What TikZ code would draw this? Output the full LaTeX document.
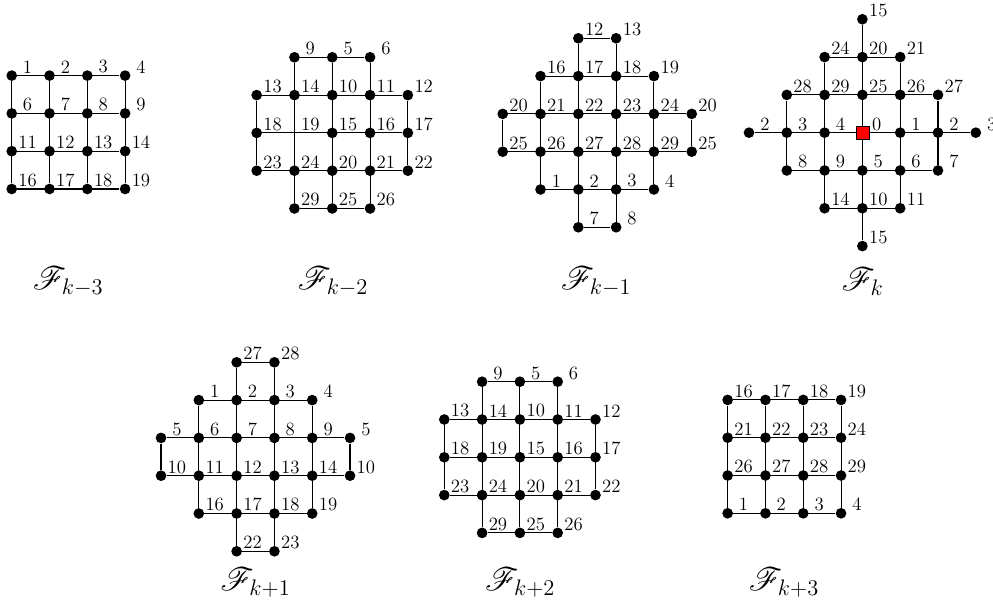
\documentclass[tikz,border=0pt]{standalone}
\usepackage{amsmath}
\usepackage{mathrsfs}

\begin{document}
\begin{tikzpicture}[x=0.85cm, y=-0.85cm,
        vtx/.style={shape=circle, fill=black, inner sep=0pt, minimum size=0.24cm},
        cross/.style={shape=circle, inner sep=0pt, minimum size=0pt},
        root/.style={shape=rectangle, draw=black, fill=red, inner sep=0pt, minimum size=0.29cm},
        num/.style={inner sep=0pt, anchor=center, font=\large},
        wire/.style={line width=0.7pt},
        captxt/.style={font=\huge}]
        	\useasboundingbox (0,0) rectangle (26.27,16.085);
        	% F_{k-3}
        	\begin{scope}[shift={(0.31,2.0)}]
        	\foreach \c in {0,...,3} \foreach \r in {0,...,3} {
        		\pgfmathtruncatemacro\l{5*\r+\c+1}
        		\node[vtx] (A-\c-\r) at (\c,\r) {};
        		\node[num] (A-\c-\r-n) at (\c+0.42,\r-0.23) {\l};
        	}
        	\foreach \i in {0,...,3} {
        		\draw[wire] (A-0-\i) -- (A-3-\i);
        		\draw[wire] (A-\i-0) -- (A-\i-3);
        	}
        	\end{scope}
        	% F_{k-2}
        	\begin{scope}[shift={(6.79,1.516)}]
        	\foreach \c/\r/\l in {1/0/9, 2/0/5, 3/0/6, 0/1/13, 1/1/14, 2/1/10, 3/1/11, 4/1/12,
        			0/2/18, 2/2/15, 3/2/16, 4/2/17, 0/3/23, 1/3/24, 2/3/20, 3/3/21, 4/3/22,
        			1/4/29, 2/4/25, 3/4/26} {
        		\node[vtx] (B-\c-\r) at (\c,\r) {};
        		\node[num] (B-\c-\r-n) at (\c+0.42,\r-0.23) {\l};
        	}
        	\node[cross] (B-1-2) at (1,2) {};
        	\node[num] (B-1-2-n) at (1.42,1.77) {19};
        	\foreach \r/\a/\b in {0/1/3, 1/0/4, 2/0/4, 3/0/4, 4/1/3}
        		\draw[wire] (B-\a-\r) -- (B-\b-\r);
        	\foreach \c/\a/\b in {0/1/3, 1/0/4, 2/0/4, 3/0/4, 4/1/3}
        		\draw[wire] (B-\c-\a) -- (B-\c-\b);
        	\end{scope}
        	% F_{k-1}
        	\begin{scope}[shift={(13.30,1.013)}]
        	\foreach \c/\r/\l in {2/0/12, 3/0/13, 1/1/16, 2/1/17, 3/1/18, 4/1/19,
        			0/2/20, 1/2/21, 2/2/22, 3/2/23, 4/2/24, 5/2/20,
        			0/3/25, 1/3/26, 2/3/27, 3/3/28, 4/3/29, 5/3/25,
        			1/4/1, 2/4/2, 3/4/3, 4/4/4, 2/5/7, 3/5/8} {
        		\node[vtx] (C-\c-\r) at (\c,\r) {};
        		\node[num] (C-\c-\r-n) at (\c+0.42,\r-0.23) {\l};
        	}
        	\foreach \r/\a/\b in {0/2/3, 1/1/4, 2/0/5, 3/0/5, 4/1/4, 5/2/3}
        		\draw[wire] (C-\a-\r) -- (C-\b-\r);
        	\foreach \c/\a/\b in {0/2/3, 1/1/4, 2/0/5, 3/0/5, 4/1/4, 5/2/3}
        		\draw[wire] (C-\c-\a) -- (C-\c-\b);
        	\end{scope}
        	% F_k
        	\begin{scope}[shift={(19.815,0.51)}]
        	\foreach \c/\r/\l in {3/0/15, 2/1/24, 3/1/20, 4/1/21,
        			1/2/28, 2/2/29, 3/2/25, 4/2/26, 5/2/27,
        			0/3/2, 1/3/3, 2/3/4, 4/3/1, 5/3/2, 6/3/3,
        			1/4/8, 2/4/9, 3/4/5, 4/4/6, 5/4/7,
        			2/5/14, 3/5/10, 4/5/11, 3/6/15} {
        		\node[vtx] (D-\c-\r) at (\c,\r) {};
        		\node[num] (D-\c-\r-n) at (\c+0.42,\r-0.23) {\l};
        	}
        	\node[root] (D-3-3) at (3,3) {};
        	\node[num] (D-3-3-n) at (3.38,2.77) {0};
        	\foreach \r/\a/\b in {1/2/4, 2/1/5, 4/1/5, 5/2/4}
        		\draw[wire] (D-\a-\r) -- (D-\b-\r);
        	\foreach \c/\a/\b in {1/2/4, 2/1/5, 4/1/5, 5/2/4}
        		\draw[wire] (D-\c-\a) -- (D-\c-\b);
        	\draw[wire] (D-0-3) -- (D-3-3) -- (D-6-3);
        	\draw[wire] (D-3-0) -- (D-3-3) -- (D-3-6);
        	\end{scope}
        	% F_{k+1}
        	\begin{scope}[shift={(4.26,9.585)}]
        	\foreach \c/\r/\l in {2/0/27, 3/0/28, 1/1/1, 2/1/2, 3/1/3, 4/1/4,
        			0/2/5, 1/2/6, 2/2/7, 3/2/8, 4/2/9, 5/2/5,
        			0/3/10, 1/3/11, 2/3/12, 3/3/13, 4/3/14, 5/3/10,
        			1/4/16, 2/4/17, 3/4/18, 4/4/19, 2/5/22, 3/5/23} {
        		\node[vtx] (E-\c-\r) at (\c,\r) {};
        		\node[num] (E-\c-\r-n) at (\c+0.42,\r-0.23) {\l};
        	}
        	\foreach \r/\a/\b in {0/2/3, 1/1/4, 2/0/5, 3/0/5, 4/1/4, 5/2/3}
        		\draw[wire] (E-\a-\r) -- (E-\b-\r);
        	\foreach \c/\a/\b in {0/2/3, 1/1/4, 2/0/5, 3/0/5, 4/1/4, 5/2/3}
        		\draw[wire] (E-\c-\a) -- (E-\c-\b);
        	\end{scope}
        	% F_{k+2}
        	\begin{scope}[shift={(11.754,10.098)}]
        	\foreach \c/\r/\l in {1/0/9, 2/0/5, 3/0/6, 0/1/13, 1/1/14, 2/1/10, 3/1/11, 4/1/12,
        			0/2/18, 1/2/19, 2/2/15, 3/2/16, 4/2/17, 0/3/23, 1/3/24, 2/3/20, 3/3/21, 4/3/22,
        			1/4/29, 2/4/25, 3/4/26} {
        		\node[vtx] (F-\c-\r) at (\c,\r) {};
        		\node[num] (F-\c-\r-n) at (\c+0.42,\r-0.23) {\l};
        	}
        	\foreach \r/\a/\b in {0/1/3, 1/0/4, 2/0/4, 3/0/4, 4/1/3}
        		\draw[wire] (F-\a-\r) -- (F-\b-\r);
        	\foreach \c/\a/\b in {0/1/3, 1/0/4, 2/0/4, 3/0/4, 4/1/3}
        		\draw[wire] (F-\c-\a) -- (F-\c-\b);
        	\end{scope}
        	% F_{k+3}
        	\begin{scope}[shift={(19.25,10.58)}]
        	\foreach \c in {0,...,3} \foreach \r in {0,...,3} {
        		\pgfmathtruncatemacro\l{\r<3 ? 5*\r+\c+16 : \c+1}
        		\node[vtx] (G-\c-\r) at (\c,\r) {};
        		\node[num] (G-\c-\r-n) at (\c+0.42,\r-0.23) {\l};
        	}
        	\foreach \i in {0,...,3} {
        		\draw[wire] (G-0-\i) -- (G-3-\i);
        		\draw[wire] (G-\i-0) -- (G-\i-3);
        	}
        	\end{scope}
        	% captions
        	\node[captxt] (capA) at (1.80,7.46) {$\mathscr{F}_{k-3}$};
        	\node[captxt] (capB) at (8.81,7.46) {$\mathscr{F}_{k-2}$};
        	\node[captxt] (capC) at (15.77,7.46) {$\mathscr{F}_{k-1}$};
        	\node[captxt] (capD) at (22.82,7.46) {$\mathscr{F}_{k}$};
        	\node[captxt] (capE) at (6.76,15.42) {$\mathscr{F}_{k+1}$};
        	\node[captxt] (capF) at (13.76,15.42) {$\mathscr{F}_{k+2}$};
        	\node[captxt] (capG) at (20.74,15.42) {$\mathscr{F}_{k+3}$};
        \end{tikzpicture}
\end{document}
